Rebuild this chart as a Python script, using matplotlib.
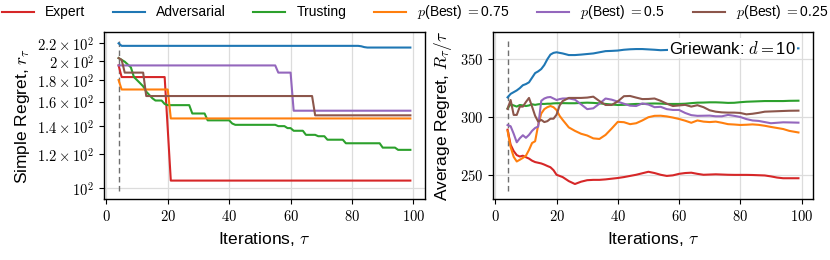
import numpy as np
import matplotlib
matplotlib.use("Agg")
import matplotlib.pyplot as plt
from matplotlib.ticker import FixedLocator, FixedFormatter, NullLocator

plt.rcParams['font.family'] = ['Liberation Sans', 'DejaVu Sans']
plt.rcParams['mathtext.fontset'] = 'cm'

# ---------------- data ----------------
labels = ["Expert", "Adversarial", "Trusting",
          r"$p$(Best) $=$0.75", r"$p$(Best) $=$0.5", r"$p$(Best) $=$0.25"]
colors = ["tab:red", "tab:blue", "tab:green", "tab:orange", "tab:purple", "tab:brown"]

# Simple regret, iterations 4..99
iters = list(range(4, 100))
sr_expert = [195] + [183] * 15 + [138] + [104] * 79
sr_adversarial = [220] + [217] * 78 + [216.5, 215.5] + [215] * 15
sr_trusting = ([203, 201, 199, 196, 193, 183, 180, 177, 174, 169, 166, 163]
               + [161] * 3 + [158] + [157] * 8 + [150] * 5 + [144.5] * 8 + [142]
               + [141] * 14 + [140] * 3 + [138.5] * 2 + [136.5] * 4 + [133.5] * 4
               + [132.5] * 3 + [130] * 6 + [127.5] * 12 + [124.5] * 5 + [123] * 5)
sr_p075 = [180] + [171] * 16 + [146] * 79
sr_p05 = [195] * 52 + [187.5] * 5 + [152.3] * 39
sr_p025 = [203, 201] + [187.5] * 7 + [165] * 55 + [148.5] * 32

# Average regret, sampled iterations
avg_iters = [4, 5, 6, 7, 8, 9, 10, 11, 12, 13, 14, 15, 16, 17, 18, 19, 20, 21, 22,
             24, 26, 28, 30, 32, 34, 36, 38, 40, 42, 44, 46, 48, 50, 52, 54, 56, 58,
             60, 62, 64, 66, 68, 70, 72, 74, 76, 78, 80, 82, 84, 86, 88, 90, 92, 94,
             96, 99]
ar_adversarial = [317, 320, 321.5, 323, 325, 327.5, 328.5, 330, 334, 338, 339.5, 341.5,
                  345, 350, 354, 355.5, 356, 355.5, 355, 353.6, 353.6, 354, 354.5, 355,
                  356, 357, 357.2, 357.5, 358.2, 358.6, 358.8, 358.8, 358.5, 358.2,
                  357.8, 358, 358.3, 358.5, 358.6, 358.8, 359, 359, 359.1, 359.2, 359.2,
                  359.3, 359.3, 359.3, 359.4, 359.4, 359.4, 359.4, 359.4, 359.4, 359.4,
                  359.4, 359.4]
ar_trusting = [307.5, 311, 310, 309, 310.4, 310, 309.5, 310, 311, 310.5, 311, 311.3,
               311.3, 311.5, 311.5, 311.8, 311.9, 311.9, 312, 311.9, 311.9, 312.2, 312.4,
               312.2, 311.8, 311.3, 310.8, 310.4, 310.5, 311, 311.3, 311.3, 311.6, 311.7,
               311.6, 311.3, 311.3, 311.3, 311.5, 312, 312.4, 312.5, 312.7, 312.7, 312.5,
               312.2, 312.3, 312.8, 313.2, 313.4, 313.6, 313.8, 313.8, 313.8, 313.8, 314,
               314.1]
ar_expert = [289, 276, 270.5, 267, 265.8, 266.5, 265.2, 264, 262.2, 261, 260.4, 259.8,
             258.8, 257.6, 256.5, 254, 250, 249, 248, 244.5, 242, 244, 245.3, 245.6,
             245.6, 246, 246.6, 247.2, 248, 249, 250, 251.3, 252.6, 251.5, 250, 249,
             249.5, 250.8, 251.5, 251.8, 250.8, 250, 250.2, 250.4, 250.2, 250, 249.9,
             249.9, 249.9, 249.8, 249.6, 249.4, 248.6, 247.6, 247, 247, 247]
ar_p075 = [288, 274, 265.5, 261.5, 263, 264.6, 266.5, 271.5, 277.5, 279, 293, 303, 306.8,
           308.5, 309.5, 308.5, 306, 301, 297.5, 291, 288, 285.5, 284, 281.5, 281, 284.5,
           290, 295.8, 295.5, 293.8, 294.6, 297, 299.8, 301, 301.1, 300.5, 299.5, 298.3,
           296.8, 295, 297, 296, 295.6, 296, 295, 293.8, 293.5, 293.1, 293.3, 293.6,
           293.2, 292.4, 291.4, 290.5, 289.6, 288, 286.6]
ar_p05 = [293, 292, 285.5, 278.1, 281.6, 284.2, 282, 284.5, 288, 290.5, 291.7, 314, 316,
          317, 317.3, 316, 314.7, 315.5, 316, 316.1, 315, 311, 306.8, 307.5, 311.5, 316,
          315, 313.3, 311.5, 309.8, 309.5, 311.7, 310.8, 308.5, 308.8, 306.8, 306.1,
          306.1, 303.5, 301.6, 301, 301.1, 301.2, 300.6, 300.6, 301.8, 301, 300, 298.2,
          297, 296.6, 295.6, 294.6, 295, 295.4, 295.3, 295.1]
ar_p025 = [307, 314.7, 301.8, 301.8, 309, 309, 313, 316.5, 309, 301, 296, 297.5, 295.6,
           296.4, 298.5, 298.5, 302, 310, 313.8, 316.5, 316.5, 316.5, 316.8, 317.6, 313.8,
           310.4, 310.4, 313.5, 318, 318.2, 316.8, 315.5, 315.6, 316, 314, 311.5, 309.5,
           310, 310.5, 309, 310.2, 308.5, 305.8, 304.6, 304, 303.8, 303.8, 303.5, 302.3,
           302.8, 303.6, 304.6, 304.8, 305, 305.2, 305.4, 305.5]

sr_series = [sr_expert, sr_adversarial, sr_trusting, sr_p075, sr_p05, sr_p025]
ar_series = [ar_expert, ar_adversarial, ar_trusting, ar_p075, ar_p05, ar_p025]

x_ticks = [0, 20, 40, 60, 80, 100]
sr_major = [100]
sr_major_labels = [r"$10^{2}$"]
sr_minor = [120, 140, 160, 180, 200, 220]
sr_minor_labels = [r"$1.2\times10^{2}$", r"$1.4\times10^{2}$", r"$1.6\times10^{2}$",
                   r"$1.8\times10^{2}$", r"$2\times10^{2}$", r"$2.2\times10^{2}$"]
ar_ticks = [250, 300, 350]

# ---------------- figure ----------------
fig = plt.figure(figsize=(8.3, 2.6), dpi=100)
ax1 = fig.add_axes([0.1253, 0.2327, 0.3867, 0.6453])
ax2 = fig.add_axes([0.594, 0.2327, 0.3855, 0.6453])

lw = 1.5
handles = []
for ys, c, lab in zip(sr_series, colors, labels):
    h, = ax1.plot(iters, ys, color=c, lw=lw, label=lab)
    handles.append(h)
for ys, c in zip(ar_series, colors):
    ax2.plot(avg_iters, ys, color=c, lw=lw)

for ax in (ax1, ax2):
    ax.axvline(4, ymin=0.05, ymax=0.95, color='#707070', lw=1.0, ls=(0, (4, 2.5)), zorder=1)
    ax.set_xlim(-0.75, 103.75)
    ax.set_xticks(x_ticks)
    ax.set_xticklabels([f"${t}$" for t in x_ticks])
    ax.grid(True, which='major', color='#dcdcdc', lw=0.9)
    ax.set_axisbelow(True)
    ax.tick_params(axis='both', which='both', labelsize=10.5, length=3.5, width=0.8)
    ax.set_xlabel(r"Iterations, $\tau$", fontsize=12.5)
    for s in ax.spines.values():
        s.set_linewidth(1.0)

ax1.set_yscale('log')
ax1.set_ylim(93.8, 234.4)
ax1.yaxis.set_major_locator(FixedLocator(sr_major))
ax1.yaxis.set_major_formatter(FixedFormatter(sr_major_labels))
ax1.yaxis.set_minor_locator(FixedLocator(sr_minor))
ax1.yaxis.set_minor_formatter(FixedFormatter(sr_minor_labels))
ax1.set_ylabel(r"Simple Regret, $r_\tau$", fontsize=12.5)

ax2.set_ylim(228.6, 373.8)
ax2.set_yticks(ar_ticks)
ax2.set_yticklabels([f"${t}$" for t in ar_ticks])
ax2.set_ylabel(r"Average Regret, $R_\tau/\tau$", fontsize=12.5)
ax2.text(0.947, 0.901, r"Griewank: $d=$10", transform=ax2.transAxes, ha='right',
         va='center', fontsize=12, zorder=5,
         bbox=dict(facecolor='white', edgecolor='none', pad=1.0))

fig.legend(handles=handles, loc='upper center', ncol=6, frameon=False,
           bbox_to_anchor=(0.5, 1.035), fontsize=10, handlelength=2.3,
           handletextpad=0.8, columnspacing=2.0)

fig.savefig("out.png", dpi=100)
